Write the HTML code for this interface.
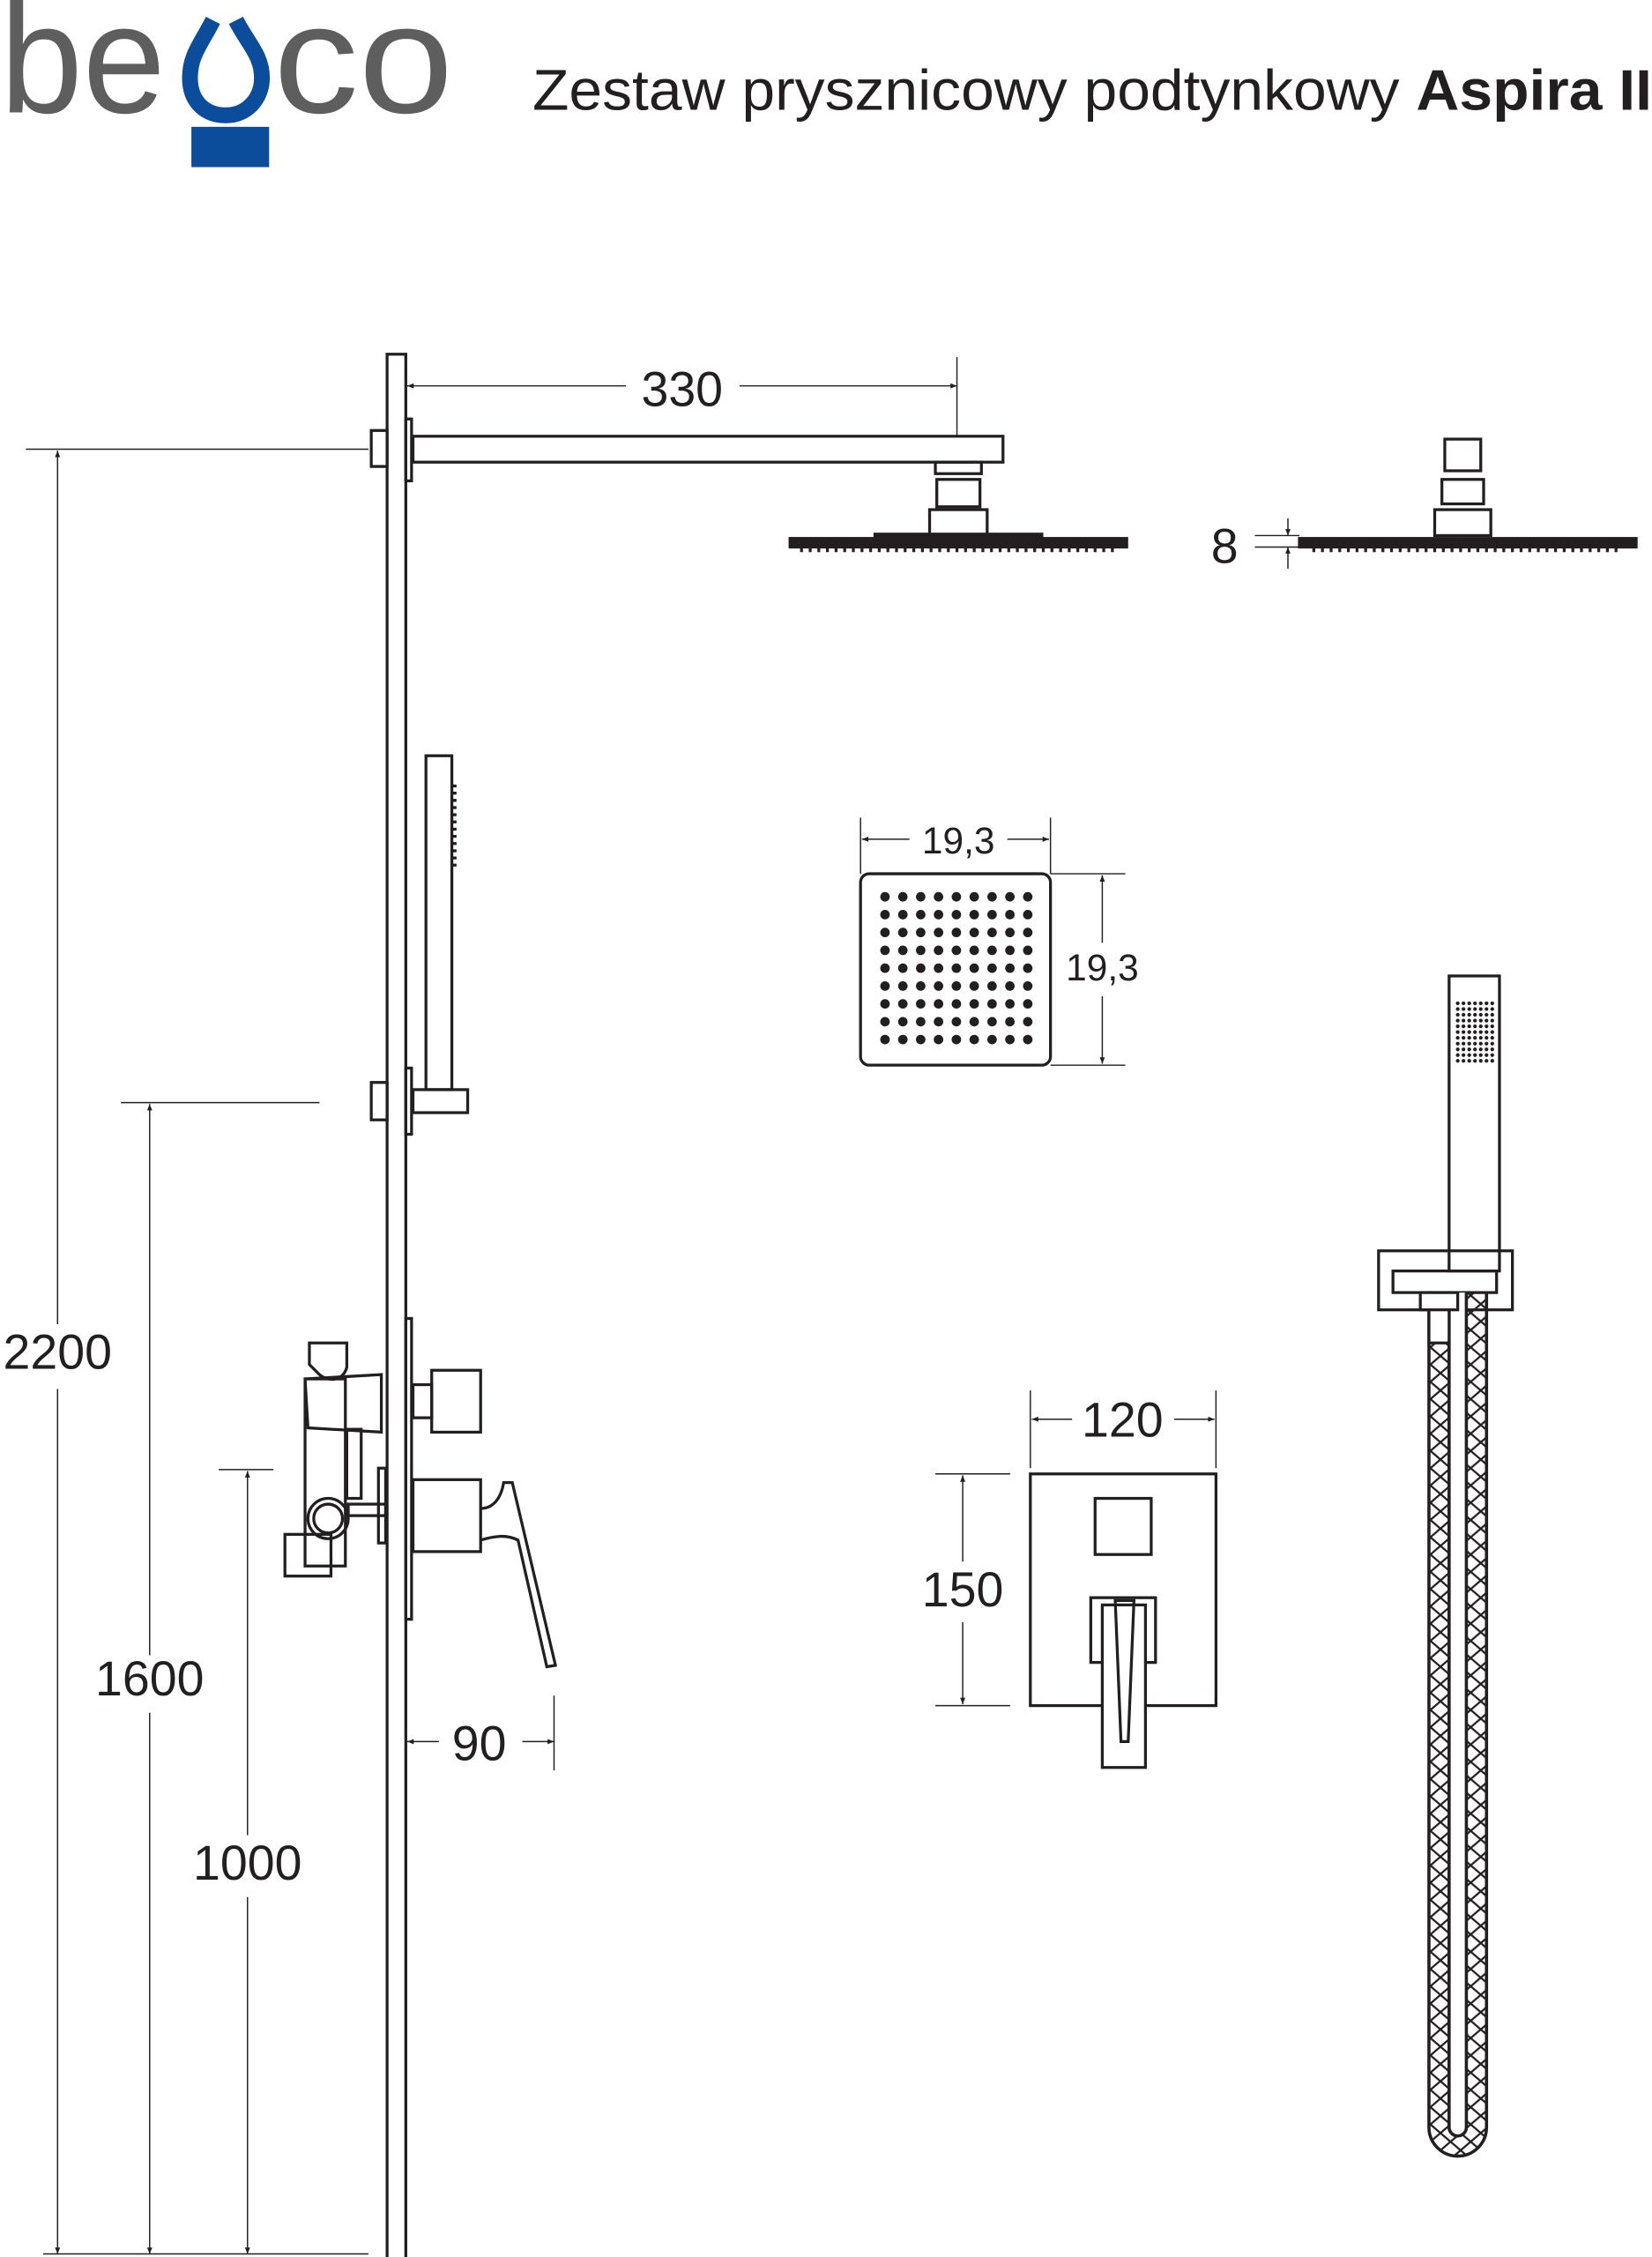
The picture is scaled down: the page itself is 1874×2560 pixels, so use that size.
<!DOCTYPE html>
<html><head><meta charset="utf-8"><style>
html,body{margin:0;padding:0;background:#fff}
svg{display:block}
text{font-family:"Liberation Sans",sans-serif;fill:#231f20}
</style></head><body>
<svg width="1874" height="2560" viewBox="0 0 1148 1568" xmlns="http://www.w3.org/2000/svg">
<defs>
<pattern id="zz" width="14" height="12" patternUnits="userSpaceOnUse">
<path d="M0,0 L7,6 L0,12 M7,6 L14,0 M7,6 L14,12" stroke="#231f20" stroke-width="1.4" fill="none"/>
</pattern>
<marker id="ar" viewBox="0 0 10 10" refX="10" refY="5" markerWidth="5" markerHeight="5" orient="auto-start-reverse"><path d="M0,1 L10,5 L0,9z" fill="#231f20"/></marker>
</defs>
<!-- logo -->
<text x="0" y="78" font-size="108" textLength="115" lengthAdjust="spacingAndGlyphs" style="fill:#5e5e5f">be</text>
<path d="M148,14 C140,30 132,38 132,54 C132,70 142,80 157,80 C172,80 182,68 182,54 C182,38 172,30 164,14" stroke="#0b4d9a" stroke-width="11" fill="none"/>
<path d="M150,44 C158,48 162,52 163,60" stroke="#fff" stroke-width="10" fill="none"/>
<text x="190" y="78" font-size="108" textLength="125" lengthAdjust="spacingAndGlyphs" style="fill:#5e5e5f">co</text>
<rect x="133" y="88" width="54" height="28" fill="#0b4d9a"/>
<text x="370" y="76" font-size="40" textLength="778" lengthAdjust="spacingAndGlyphs">Zestaw prysznicowy podtynkowy <tspan font-weight="bold">Aspira II</tspan></text>

<g stroke="#231f20" fill="none" stroke-width="2">
<rect x="269" y="246" width="13" height="1330"/>
<rect x="258" y="299" width="11" height="25"/>
<rect x="282" y="291" width="4" height="43"/>
<rect x="287" y="303" width="410" height="18"/>
<rect x="650" y="321" width="32" height="8"/>
<rect x="651" y="333" width="30" height="19"/>
<rect x="646" y="354" width="40" height="18"/>
<rect x="608" y="371" width="116" height="4" fill="#231f20"/>
<rect x="549" y="374" width="234" height="6" fill="#231f20"/>
<line x1="556" y1="382" x2="778" y2="382" stroke-dasharray="2 4" stroke-width="3"/>
<rect x="1004" y="305" width="25" height="22"/>
<rect x="1002" y="333" width="29" height="17"/>
<rect x="997" y="354" width="39" height="18"/>
<rect x="903" y="374" width="234" height="6" fill="#231f20"/>
<line x1="912" y1="382" x2="1125" y2="382" stroke-dasharray="2 4" stroke-width="3"/>
<rect x="296" y="525" width="18" height="232"/>
<line x1="316" y1="545" x2="316" y2="602" stroke-dasharray="2 3" stroke-width="2.5"/>
<rect x="287" y="757" width="38" height="16"/>
<rect x="258" y="752" width="11" height="26"/>
<rect x="282" y="742" width="4" height="46"/>
<rect x="282" y="916" width="4" height="209"/>
<rect x="287" y="962" width="13" height="23"/>
<rect x="300" y="952" width="34" height="43"/>
<rect x="287" y="1028" width="47" height="50"/>
<path d="M334,1048 C342,1048 348,1042 350,1030 L356,1030 L386,1157 L380,1158 L360,1070 C352,1066 344,1067 334,1070"/>
<path d="M215,933 L241,933 L241,950 C238,960 228,960 222,955 L215,948 Z"/>
<path d="M212,958 L265,955 L265,995 L214,992 Z"/>
<rect x="241" y="993" width="10" height="48"/>
<rect x="212" y="958" width="28" height="130"/>
<circle cx="228" cy="1055" r="14"/><circle cx="228" cy="1055" r="10"/>
<rect x="242" y="1045" width="26" height="8"/>
<rect x="263" y="1020" width="5" height="52"/>
<rect x="198" y="1066" width="32" height="29"/>
<rect x="598" y="607" width="132" height="133" rx="6"/>
<rect x="716" y="1024" width="129" height="161"/>
<rect x="761" y="1041" width="39" height="39"/>
<rect x="758" y="1110" width="45" height="45"/>
<path d="M766,1115 L796,1115 L796,1228 L766,1228 Z" fill="#fff"/>
<path d="M775,1112 L788,1112 L784,1210 L779,1210 Z"/>
<rect x="1007" y="678" width="35" height="205"/>
<rect x="958" y="869" width="93" height="41"/>
<rect x="968" y="883" width="72" height="15"/>
<path d="M993,898 L993,1478 A20,20 0 0 0 1033,1478 L1033,898" fill="url(#zz)" stroke-width="2.2"/>
<path d="M1007,898 L1007,1478 A6,6 0 0 0 1019,1478 L1019,898" fill="#fff" stroke-width="2.2"/>
<rect x="993" y="898" width="14" height="35" fill="#fff"/>
<rect x="987" y="898" width="26" height="12" fill="#fff"/>
</g>

<g stroke="#231f20" stroke-width="0.9" fill="none">
<line x1="283" y1="268" x2="435" y2="268" marker-start="url(#ar)"/>
<line x1="514" y1="268" x2="665" y2="268" marker-end="url(#ar)"/>
<line x1="665" y1="248" x2="665" y2="303"/>
<line x1="18" y1="312" x2="256" y2="312"/>
<line x1="40" y1="313" x2="40" y2="920" marker-start="url(#ar)"/>
<line x1="40" y1="965" x2="40" y2="1566" marker-end="url(#ar)"/>
<line x1="84" y1="766" x2="222" y2="766"/>
<line x1="104" y1="767" x2="104" y2="1150" marker-start="url(#ar)"/>
<line x1="104" y1="1190" x2="104" y2="1566" marker-end="url(#ar)"/>
<line x1="152" y1="1021" x2="190" y2="1021"/>
<line x1="172" y1="1022" x2="172" y2="1275" marker-start="url(#ar)"/>
<line x1="172" y1="1318" x2="172" y2="1566" marker-end="url(#ar)"/>
<line x1="30" y1="1566" x2="256" y2="1566"/>
<line x1="283" y1="1210" x2="305" y2="1210" marker-start="url(#ar)"/>
<line x1="363" y1="1210" x2="385" y2="1210" marker-end="url(#ar)"/>
<line x1="385" y1="1178" x2="385" y2="1230"/>
<line x1="872" y1="372" x2="903" y2="372"/><line x1="872" y1="380" x2="903" y2="380"/>
<line x1="895" y1="360" x2="895" y2="372" marker-end="url(#ar)"/>
<line x1="895" y1="395" x2="895" y2="380" marker-end="url(#ar)"/>
<line x1="598" y1="568" x2="598" y2="607"/><line x1="730" y1="568" x2="730" y2="607"/>
<line x1="599" y1="583" x2="632" y2="583" marker-start="url(#ar)"/>
<line x1="700" y1="583" x2="729" y2="583" marker-end="url(#ar)"/>
<line x1="730" y1="607" x2="782" y2="607"/><line x1="730" y1="740" x2="782" y2="740"/>
<line x1="766" y1="608" x2="766" y2="655" marker-start="url(#ar)"/>
<line x1="766" y1="692" x2="766" y2="739" marker-end="url(#ar)"/>
<line x1="716" y1="966" x2="716" y2="1020"/><line x1="845" y1="966" x2="845" y2="1020"/>
<line x1="717" y1="986" x2="745" y2="986" marker-start="url(#ar)"/>
<line x1="816" y1="986" x2="844" y2="986" marker-end="url(#ar)"/>
<line x1="650" y1="1024" x2="702" y2="1024"/><line x1="650" y1="1185" x2="702" y2="1185"/>
<line x1="669" y1="1025" x2="669" y2="1085" marker-start="url(#ar)"/>
<line x1="669" y1="1127" x2="669" y2="1184" marker-end="url(#ar)"/>
</g>
<g font-size="34" text-anchor="middle">
<text x="474" y="282">330</text>
<text x="40" y="951">2200</text>
<text x="104" y="1178">1600</text>
<text x="172" y="1306">1000</text>
<text x="333" y="1223">90</text>
<text x="851" y="391">8</text>
<text x="780" y="998">120</text>
<text x="669" y="1116">150</text>
<text x="666" y="593" font-size="26">19,3</text>
<text x="766" y="681" font-size="26">19,3</text>
</g>
<g fill="#231f20">
<g transform="translate(615,623)">
<g id="row"><circle cx="0" cy="0" r="3.3"/><circle cx="12.4" cy="0" r="3.3"/><circle cx="24.8" cy="0" r="3.3"/><circle cx="37.2" cy="0" r="3.3"/><circle cx="49.6" cy="0" r="3.3"/><circle cx="62" cy="0" r="3.3"/><circle cx="74.4" cy="0" r="3.3"/><circle cx="86.8" cy="0" r="3.3"/><circle cx="99.2" cy="0" r="3.3"/></g>
<use href="#row" y="12.4"/><use href="#row" y="24.8"/><use href="#row" y="37.2"/><use href="#row" y="49.6"/><use href="#row" y="62"/><use href="#row" y="74.4"/><use href="#row" y="86.8"/><use href="#row" y="99.2"/>
</g>
<g transform="translate(1013,697)">
<g id="r2"><circle cx="0" cy="0" r="1.3"/><circle cx="4" cy="0" r="1.3"/><circle cx="8" cy="0" r="1.3"/><circle cx="12" cy="0" r="1.3"/><circle cx="16" cy="0" r="1.3"/><circle cx="20" cy="0" r="1.3"/><circle cx="24" cy="0" r="1.3"/></g>
<use href="#r2" y="4"/><use href="#r2" y="8"/><use href="#r2" y="12"/><use href="#r2" y="16"/><use href="#r2" y="20"/><use href="#r2" y="24"/><use href="#r2" y="28"/><use href="#r2" y="32"/><use href="#r2" y="36"/><use href="#r2" y="40"/>
</g>
</g>
</svg>
</body></html>
